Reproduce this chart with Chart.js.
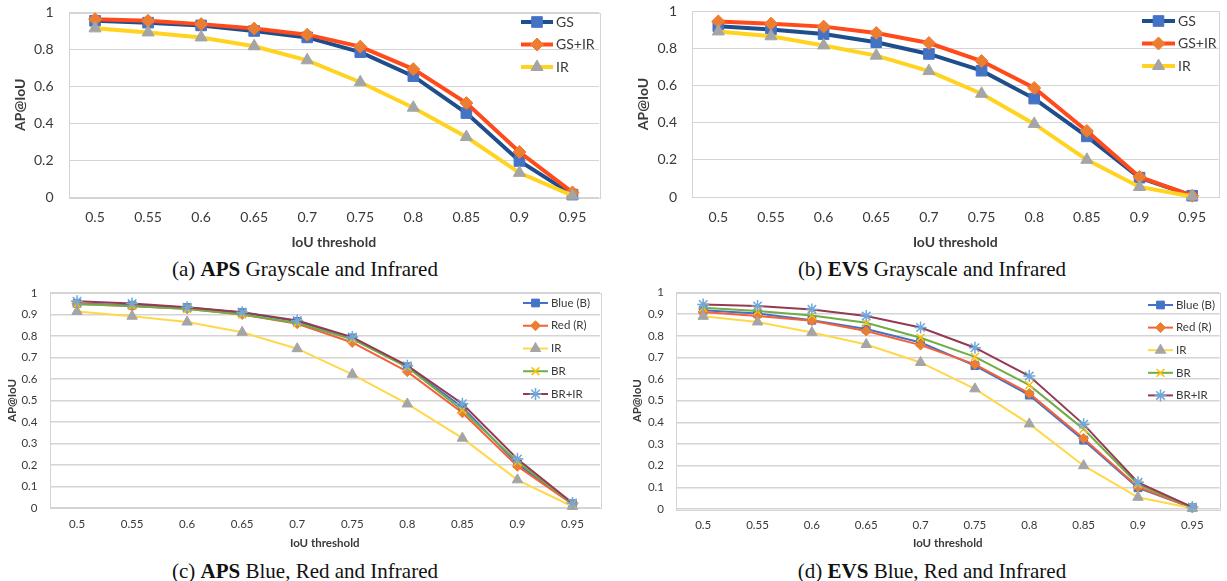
<!DOCTYPE html>
<html>
<head>
<meta charset="utf-8">
<script src="https://cdn.jsdelivr.net/npm/chart.js@4"></script>
<style>
  body { margin: 0; background: #fff; width: 1227px; height: 581px; position: relative; overflow: hidden; }
  .box { position: absolute; }
  .cap { position: absolute; width: 420px; text-align: center; font-family: "Liberation Serif", "DejaVu Serif", serif; font-size: 21px; line-height: 24px; color: #111; }
</style>
</head>
<body>
<div class="box" style="left:0;top:0;width:610px;height:252px"><canvas id="chartA"></canvas></div>
<div class="box" style="left:615px;top:0;width:612px;height:252px"><canvas id="chartB"></canvas></div>
<div class="box" style="left:0;top:285px;width:610px;height:265px"><canvas id="chartC"></canvas></div>
<div class="box" style="left:615px;top:285px;width:612px;height:265px"><canvas id="chartD"></canvas></div>
<div class="cap" style="left:95px;top:257px">(a) <b>APS</b> Grayscale and Infrared</div>
<div class="cap" style="left:722px;top:257px">(b) <b>EVS</b> Grayscale and Infrared</div>
<div class="cap" style="left:95px;top:559px">(c) <b>APS</b> Blue, Red and Infrared</div>
<div class="cap" style="left:722px;top:559px">(d) <b>EVS</b> Blue, Red and Infrared</div>
<script>
// IoU thresholds on the x axis
const thresholds = ["0.5", "0.55", "0.6", "0.65", "0.7", "0.75", "0.8", "0.85", "0.9", "0.95"];

// APS, grayscale / infrared
const apsGS   = [0.955, 0.945, 0.930, 0.900, 0.865, 0.785, 0.655, 0.455, 0.195, 0.013];
const apsGSIR = [0.964, 0.955, 0.937, 0.913, 0.880, 0.815, 0.693, 0.509, 0.244, 0.025];
const apsIR   = [0.914, 0.892, 0.865, 0.817, 0.741, 0.622, 0.484, 0.325, 0.131, 0.007];

// EVS, grayscale / infrared
const evsGS   = [0.918, 0.901, 0.876, 0.832, 0.769, 0.679, 0.529, 0.326, 0.104, 0.007];
const evsGSIR = [0.944, 0.932, 0.916, 0.882, 0.828, 0.731, 0.586, 0.355, 0.108, 0.007];
const evsIR   = [0.890, 0.864, 0.815, 0.760, 0.677, 0.555, 0.393, 0.200, 0.054, 0.003];

// APS, blue / red / infrared
const apsBlue = [0.951, 0.943, 0.932, 0.909, 0.868, 0.791, 0.657, 0.469, 0.205, 0.020];
const apsRed  = [0.950, 0.938, 0.927, 0.900, 0.857, 0.770, 0.634, 0.443, 0.194, 0.018];
const apsBR   = [0.948, 0.940, 0.925, 0.900, 0.860, 0.785, 0.655, 0.455, 0.215, 0.020];
const apsBRIR = [0.962, 0.951, 0.934, 0.911, 0.872, 0.795, 0.662, 0.485, 0.228, 0.023];

// EVS, blue / red / infrared
const evsBlue = [0.918, 0.903, 0.872, 0.831, 0.769, 0.662, 0.526, 0.318, 0.098, 0.006];
const evsRed  = [0.910, 0.892, 0.870, 0.822, 0.757, 0.668, 0.534, 0.326, 0.102, 0.006];
const evsBR   = [0.929, 0.914, 0.894, 0.860, 0.791, 0.703, 0.572, 0.369, 0.114, 0.008];
const evsBRIR = [0.945, 0.938, 0.922, 0.891, 0.838, 0.745, 0.614, 0.391, 0.123, 0.009];

const FONT = "Lato, 'Noto Sans', sans-serif";
const TEXT = "#3a3a3a";

// line + marker legend drawn inside the plot, like the Excel one
const inLegend = {
  id: "inlegend",
  afterDraw(chart, args, o) {
    const ctx = chart.ctx;
    ctx.save();
    ctx.font = o.size + "px " + FONT;
    ctx.textBaseline = "middle";
    chart.data.datasets.forEach(function (ds, i) {
      const y = o.y + i * o.dy;
      ctx.strokeStyle = ds.borderColor;
      ctx.lineWidth = ds.borderWidth;
      ctx.beginPath();
      ctx.moveTo(o.x, y);
      ctx.lineTo(o.x + o.len, y);
      ctx.stroke();
      if (Chart.helpers && Chart.helpers.drawPoint) {
        ctx.fillStyle = ds.pointBackgroundColor;
        ctx.strokeStyle = ds.pointBorderColor;
        ctx.lineWidth = ds.pointBorderWidth;
        Chart.helpers.drawPoint(ctx, { pointStyle: ds.pointStyle, radius: ds.pointRadius, borderWidth: ds.pointBorderWidth, rotation: 0 }, o.x + o.len / 2, y);
      }
      ctx.fillStyle = TEXT;
      ctx.fillText(ds.label, o.x + o.len + 3, y);
    });
    ctx.restore();
  }
};

// light grey box round the plot area
const frame = {
  id: "frame",
  beforeDatasetsDraw(chart) {
    const a = chart.chartArea, ctx = chart.ctx;
    ctx.save();
    ctx.strokeStyle = "#d4d4d4";
    ctx.lineWidth = 1;
    ctx.strokeRect(Math.round(a.left) + 0.5, Math.round(a.top) + 0.5, Math.round(a.right - a.left), Math.round(a.bottom - a.top));
    ctx.restore();
  }
};

function series(label, data, line, marker, style, radius, width) {
  const stroked = style === "crossRot" || style === "star";
  return {
    label: label,
    data: data,
    borderColor: line,
    borderWidth: width,
    pointStyle: style,
    pointRadius: radius,
    pointHoverRadius: radius,
    pointBackgroundColor: marker,
    pointBorderColor: marker,
    pointBorderWidth: stroked ? 1.5 : 1,
    tension: 0,
    clip: false
  };
}

function makeChart(id, sets, p) {
  sets.forEach(function (s, i) { s.order = sets.length - 1 - i; });
  return new Chart(document.getElementById(id), {
    type: "line",
    data: { labels: thresholds, datasets: sets },
    plugins: [frame, inLegend],
    options: {
      responsive: true,
      maintainAspectRatio: false,
      animation: false,
      layout: { padding: { top: p.top, right: p.right, left: 0, bottom: 0 } },
      plugins: {
        legend: { display: false },
        tooltip: { enabled: false },
        inlegend: p.legend
      },
      scales: {
        x: {
          offset: true,
          grid: { display: false, drawTicks: false },
          border: { display: false },
          ticks: { color: TEXT, font: { family: FONT, size: p.tick }, padding: p.xPad, maxRotation: 0, autoSkip: false },
          title: { display: true, text: "IoU threshold", color: TEXT, font: { family: FONT, size: p.title, weight: "bold" }, padding: { top: 0, bottom: p.xTitlePad } },
          afterFit: function (s) { s.height = p.xHeight; s.paddingLeft = 0; s.paddingRight = 0; }
        },
        y: {
          min: 0,
          max: 1,
          ticks: { stepSize: p.step, color: TEXT, font: { family: FONT, size: p.tick }, padding: p.yPad, callback: function (v) { return String(+v.toFixed(2)); } },
          grid: { color: "#d4d4d4", lineWidth: p.gridWidth, drawTicks: false },
          border: { display: false },
          title: { display: true, text: "AP@IoU", color: TEXT, font: { family: FONT, size: p.title, weight: "bold" }, padding: { top: p.yTitlePad, bottom: 0 } },
          // fixed width, and no extra room above/below for the end labels
          afterFit: function (s) { s.width = p.yWidth; s.paddingTop = 0; s.paddingBottom = 0; }
        }
      }
    }
  });
}

// grayscale + infrared panels
function gsSets(gs, gsir, ir) {
  return [
    series("GS", gs, "#1f4e8c", "#4472c4", "rect", 7.5, 4),
    series("GS+IR", gsir, "#ff4a1c", "#ed7d31", "rectRot", 6.5, 4),
    series("IR", ir, "#ffd320", "#a5a5a5", "triangle", 7, 4)
  ];
}

// blue / red / infrared panels
function brSets(b, r, ir, br, brir) {
  return [
    series("Blue (B)", b, "#4472c4", "#4472c4", "rect", 5.5, 2),
    series("Red (R)", r, "#f5603a", "#ed7d31", "rectRot", 5, 2),
    series("IR", ir, "#ffd84a", "#a5a5a5", "triangle", 6, 2),
    series("BR", br, "#70ad47", "#ffc000", "crossRot", 5.5, 2),
    series("BR+IR", brir, "#943a52", "#6fa8dc", "star", 6, 2)
  ];
}

makeChart("chartA", gsSets(apsGS, apsGSIR, apsIR), {
  top: 12.5, right: 11, yWidth: 68.5, xHeight: 55, tick: 14, title: 14, step: 0.2, gridWidth: 1,
  xPad: 12, yPad: 15, xTitlePad: 1.6, yTitlePad: 11.6,
  legend: { x: 521, y: 22, dy: 22.5, len: 32, size: 14 }
});

makeChart("chartB", gsSets(evsGS, evsGSIR, evsIR), {
  top: 11, right: 2, yWidth: 77, xHeight: 55, tick: 14, title: 14, step: 0.2, gridWidth: 1,
  xPad: 12, yPad: 15, xTitlePad: 1.6, yTitlePad: 19.6,
  legend: { x: 527, y: 21, dy: 22.5, len: 33, size: 14 }
});

makeChart("chartC", brSets(apsBlue, apsRed, apsIR, apsBR, apsBRIR), {
  top: 8, right: 10, yWidth: 49.5, xHeight: 42, tick: 11.5, title: 11.5, step: 0.1, gridWidth: 1.5,
  xPad: 9.5, yPad: 12, xTitlePad: 0.1, yTitlePad: 5,
  legend: { x: 523, y: 18, dy: 22.75, len: 25, size: 11.5 }
});

makeChart("chartD", brSets(evsBlue, evsRed, evsIR, evsBR, evsBRIR), {
  top: 7, right: 1, yWidth: 61, xHeight: 41, tick: 11.5, title: 11.5, step: 0.1, gridWidth: 1.5,
  xPad: 9.5, yPad: 12, xTitlePad: 0.1, yTitlePad: 15,
  legend: { x: 533, y: 20, dy: 22.6, len: 25, size: 11.5 }
});
</script>
</body>
</html>
